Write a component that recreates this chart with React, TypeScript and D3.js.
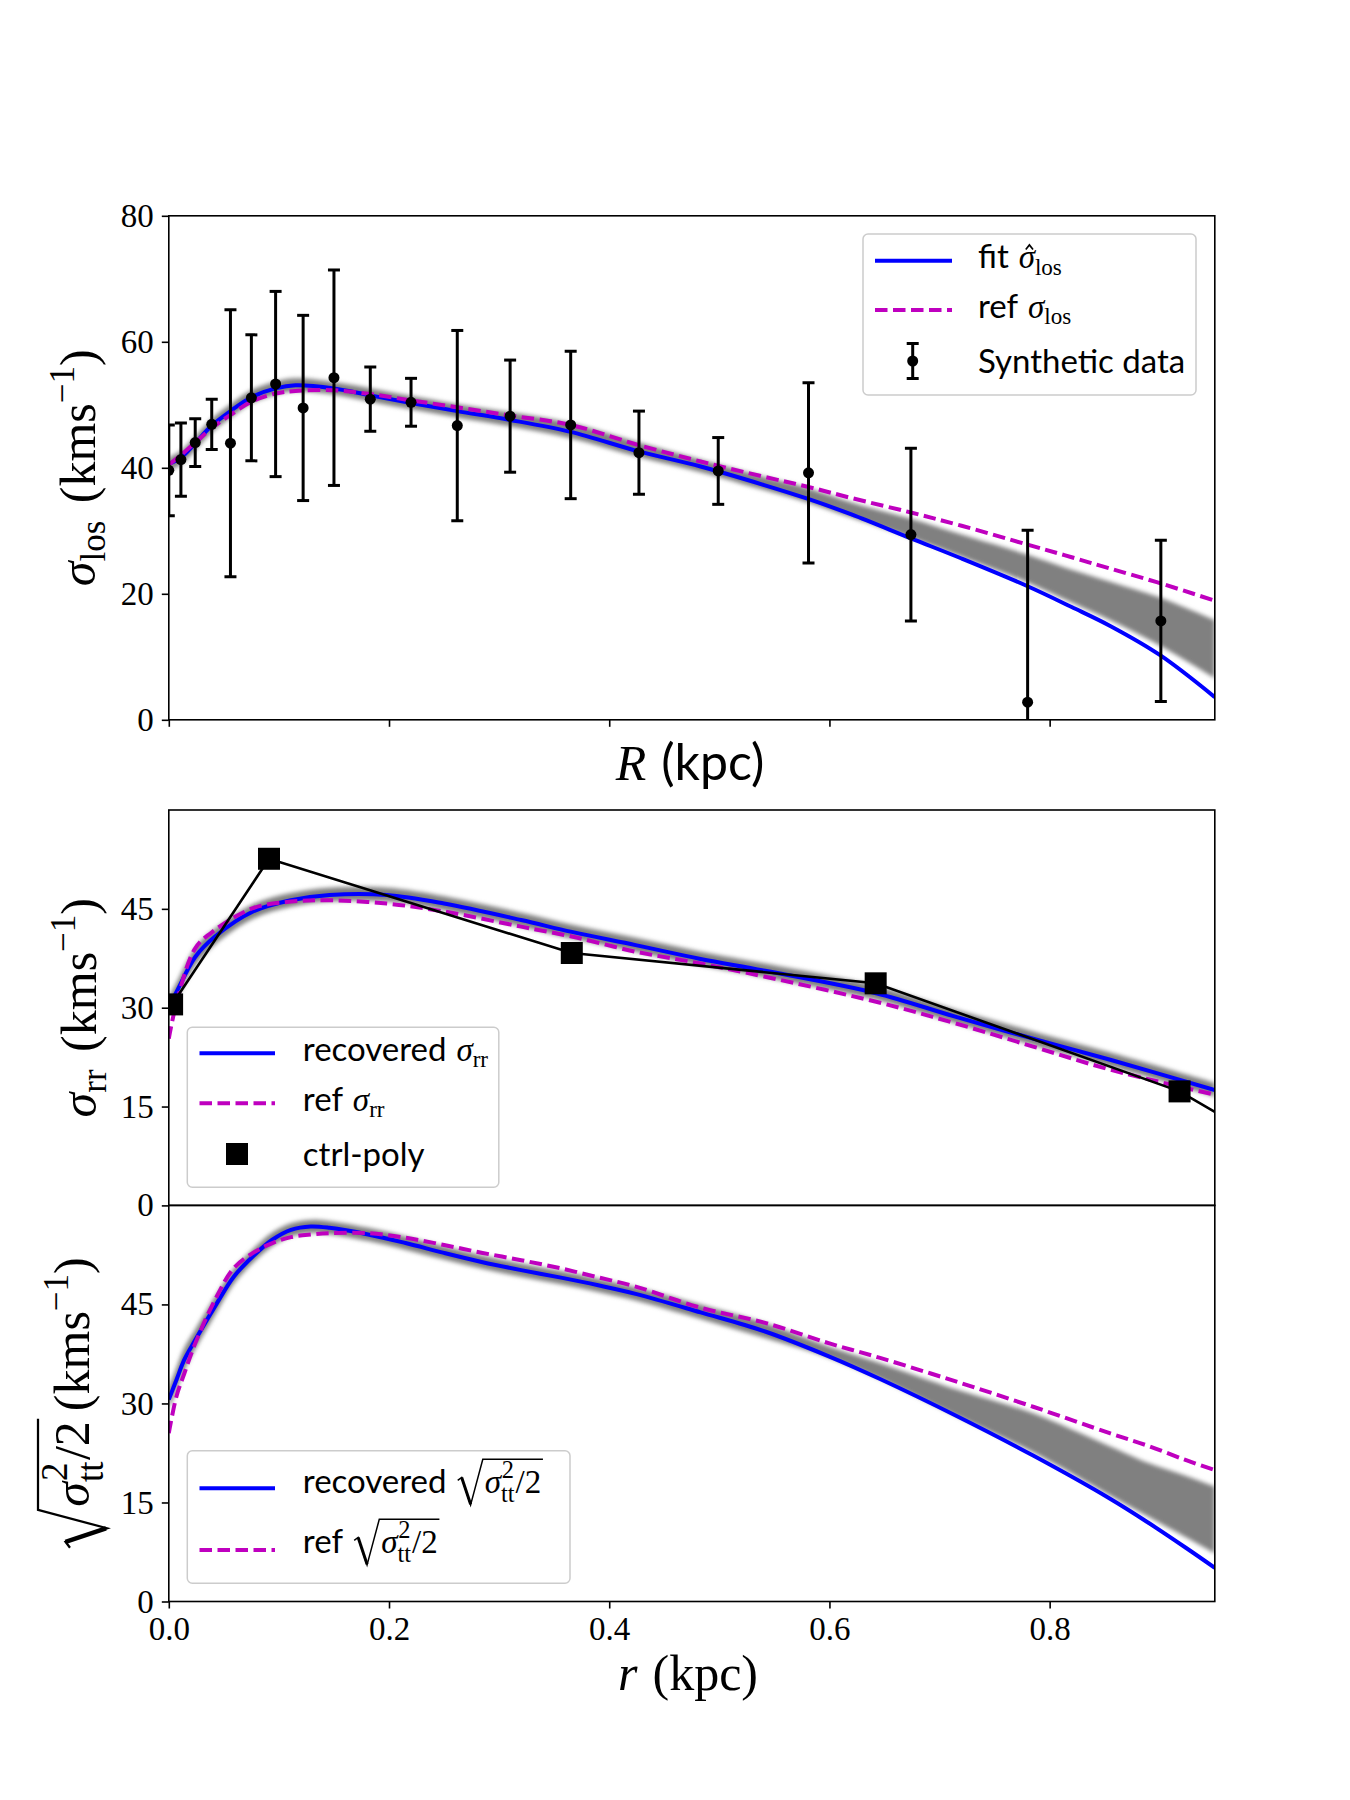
import React, { useEffect, useRef } from 'react';
import * as d3 from 'd3';

const W = 1350, H = 1800;
const SERIF = '"Liberation Serif", "DejaVu Serif", serif';
const SANS = 'Lato, "DejaVu Sans", sans-serif';
const BLUE = '#0000ff', MAG = '#bf00bf', BAND = '#808080';

// ---- top panel: line-of-sight dispersion ----
const topR = [0, 0.011, 0.024, 0.039, 0.056, 0.075, 0.097, 0.115, 0.15, 0.183, 0.22, 0.262, 0.31, 0.365, 0.427, 0.483, 0.54, 0.58, 0.62, 0.674, 0.72, 0.78, 0.82, 0.855, 0.9, 0.95];
const fitLos = [40.6, 41.6, 43.9, 46.7, 49.0, 51.2, 52.6, 53.1, 52.6, 51.5, 50.3, 49.0, 47.6, 45.7, 42.6, 40.2, 37.3, 35.1, 32.6, 28.8, 25.6, 21.2, 17.9, 14.9, 10.3, 3.6];
const refLos = [40.5, 42.0, 44.0, 46.3, 48.4, 50.5, 51.8, 52.2, 52.3, 51.7, 50.7, 49.6, 48.3, 46.8, 43.6, 41.0, 38.6, 37.0, 35.2, 32.9, 30.8, 27.8, 25.8, 24.0, 21.7, 18.9];
const bandLoLos = [39.6, 40.5, 42.8, 45.6, 47.9, 50.2, 51.6, 52.1, 51.6, 50.5, 49.3, 48.0, 46.6, 44.7, 41.7, 39.3, 36.5, 34.5, 32.1, 28.9, 25.9, 21.8, 18.6, 15.8, 11.8, 6.6];
const bandHiLos = [41.6, 42.7, 45.0, 47.8, 50.1, 52.3, 53.7, 54.2, 53.6, 52.6, 51.4, 50.1, 48.8, 47.1, 44.0, 41.3, 38.6, 36.8, 34.5, 31.9, 29.4, 26.2, 23.8, 21.9, 19.4, 15.8];

const dataR = [0.0, 0.011, 0.024, 0.039, 0.056, 0.075, 0.097, 0.122, 0.15, 0.183, 0.22, 0.262, 0.31, 0.365, 0.427, 0.499, 0.581, 0.674, 0.78, 0.901];
const dataSig = [39.6, 41.3, 44.0, 46.9, 43.9, 51.1, 53.3, 49.5, 54.3, 50.9, 50.4, 46.7, 48.2, 46.8, 42.4, 39.5, 39.2, 29.4, 2.8, 15.7];
const dataErr = [7.2, 5.8, 3.8, 4.0, 21.2, 10.0, 14.7, 14.7, 17.1, 5.1, 3.8, 15.1, 8.9, 11.7, 6.6, 5.3, 14.3, 13.7, 27.3, 12.8];

// ---- middle panel: radial dispersion ----
const midR = [0, 0.007, 0.024, 0.042, 0.0765, 0.111, 0.146, 0.198, 0.25, 0.32, 0.366, 0.424, 0.483, 0.5416, 0.6424, 0.715, 0.785, 0.855, 0.95];
const recRR = [30.2, 32.4, 37.7, 40.8, 44.6, 46.3, 47.1, 47.1, 45.8, 43.3, 41.5, 39.5, 37.4, 35.6, 32.2, 28.6, 25.3, 22.1, 17.5];
const refRR = [25.3, 30.7, 39.0, 41.8, 45.1, 46.1, 46.3, 45.8, 44.6, 42.3, 40.8, 38.5, 36.7, 34.7, 30.9, 27.6, 24.1, 20.6, 16.8];
const bandLoRR = [29.0, 31.2, 36.4, 39.6, 43.5, 45.3, 46.1, 46.1, 44.8, 42.3, 40.5, 38.5, 36.4, 34.6, 31.2, 27.6, 24.3, 21.1, 16.5];
const bandHiRR = [31.6, 33.8, 39.1, 42.0, 45.7, 47.4, 48.2, 48.2, 46.9, 44.4, 42.6, 40.6, 38.5, 36.7, 33.3, 29.7, 26.4, 23.2, 18.6];

const ctrlR = [0.003, 0.091, 0.366, 0.642, 0.918, 1.194];
const ctrlS = [30.5, 52.6, 38.3, 33.7, 17.3, -9.5];

// ---- bottom panel: tangential dispersion ----
const botR = [0, 0.007, 0.014, 0.024, 0.042, 0.059, 0.0765, 0.094, 0.111, 0.129, 0.146, 0.181, 0.215, 0.25, 0.285, 0.32, 0.355, 0.39, 0.424, 0.483, 0.5416, 0.6, 0.646, 0.7155, 0.785, 0.8545, 0.889, 0.924, 0.95];
const recTT = [30.6, 33.6, 36.6, 39.6, 44.7, 49.2, 52.3, 54.8, 56.3, 56.8, 56.6, 55.6, 54.3, 52.8, 51.4, 50.2, 49.1, 47.9, 46.6, 43.8, 40.9, 37.1, 33.7, 28.1, 22.1, 15.6, 12.0, 8.1, 5.1];
const refTT = [25.5, 31.1, 34.5, 39.1, 45.7, 50.5, 52.8, 54.3, 55.2, 55.6, 55.8, 55.8, 55.1, 54.0, 52.8, 51.7, 50.5, 49.1, 47.7, 44.5, 42.2, 39.1, 36.9, 33.3, 29.5, 25.5, 23.6, 21.4, 19.9];
const bandLoTT = [29.0, 32.0, 35.0, 38.2, 43.4, 48.1, 51.3, 53.8, 55.3, 55.8, 55.6, 54.6, 53.3, 51.8, 50.4, 49.2, 48.1, 46.9, 45.6, 42.8, 39.9, 36.9, 33.7, 28.1, 22.6, 16.1, 12.9, 9.7, 7.3];
const bandHiTT = [32.4, 35.4, 38.4, 41.2, 46.2, 50.4, 53.4, 55.9, 57.3, 57.8, 57.6, 56.6, 55.3, 53.8, 52.4, 51.2, 50.1, 48.9, 47.6, 45.0, 42.2, 38.6, 36.1, 32.1, 28.5, 23.5, 21.0, 19.0, 17.4];

const xTicks = [0, 0.2, 0.4, 0.6, 0.8];
const losTicks = [0, 20, 40, 60, 80];
const dispTicks = [0, 15, 30, 45];

type Piece = any;

// lays out a run of text pieces (sans words, serif math, sub/superscripts, radicals)
function rich(g: any, pieces: Piece[], S: number) {
  let x = 0, sx = 0;
  let last = { x: 0, w: 0 };
  const put = (t: string, px: number, py: number, size: number, fam: string, it: boolean) => {
    const n = g.append('text').attr('x', px).attr('y', py)
      .style('font-family', fam).style('font-style', it ? 'italic' : 'normal')
      .style('font-size', size + 'px').style('white-space', 'pre').attr('fill', '#000').text(t);
    return n.node().getComputedTextLength();
  };
  pieces.forEach((p) => {
    if (p.hat) {
      const cx = last.x + last.w / 2 + 0.08 * S;
      g.append('path')
        .attr('d', `M${cx - 0.11 * S},${-0.56 * S}L${cx},${-0.7 * S}L${cx + 0.11 * S},${-0.56 * S}`)
        .attr('fill', 'none').attr('stroke', '#000').attr('stroke-width', 0.05 * S);
      return;
    }
    if (p.sqrt === 'open') { sx = x; x += 0.86 * S; return; }
    if (p.sqrt === 'close') {
      const top = -1.02 * S;
      g.append('path')
        .attr('d', `M${sx + 0.04 * S},${-0.38 * S}L${sx + 0.16 * S},${-0.47 * S}L${sx + 0.43 * S},${0.36 * S}L${sx + 0.8 * S},${top}L${x + 0.05 * S},${top}`)
        .attr('fill', 'none').attr('stroke', '#000').attr('stroke-width', 0.045 * S).attr('stroke-linejoin', 'miter');
      g.append('path')
        .attr('d', `M${sx + 0.16 * S},${-0.47 * S}L${sx + 0.43 * S},${0.34 * S}`)
        .attr('stroke', '#000').attr('stroke-width', 0.09 * S);
      x += 0.1 * S;
      return;
    }
    if (p.stack) {
      const wa = put(p.stack[0], x + 0.02 * S, -0.44 * S, 0.74 * S, SERIF, false);
      const wb = put(p.stack[1], x, 0.28 * S, 0.74 * S, SERIF, false);
      x += Math.max(wa + 0.02 * S, wb) + 0.03 * S;
      return;
    }
    x += (p.gap ?? 0) * S;
    const w = put(p.t, x, (p.dy ?? 0) * S, (p.s ?? 1) * S, p.sans ? SANS : SERIF, !!p.it);
    last = { x, w };
    x += w;
  });
  return x;
}

const App = () => {
  const svgRef = useRef<SVGSVGElement>(null);

  useEffect(() => {
    const svg = d3.select(svgRef.current);
    svg.selectAll('*').remove();

    const X0 = 168.8, X1 = 1214.8;
    const x = d3.scaleLinear().domain([0, 0.95]).range([X0, X1]);

    const defs = svg.append('defs');
    defs.append('filter').attr('id', 'soft').attr('x', '-10%').attr('y', '-10%')
      .attr('width', '120%').attr('height', '120%')
      .append('feGaussianBlur').attr('stdDeviation', 2.2);

    const panel = (id: string, top: number, bottom: number, ymax: number, yt: number[], xLabels: boolean | null) => {
      const y = d3.scaleLinear().domain([0, ymax]).range([bottom, top]);
      defs.append('clipPath').attr('id', id).append('rect')
        .attr('x', X0).attr('y', top).attr('width', X1 - X0).attr('height', bottom - top);
      const plot = svg.append('g').attr('clip-path', `url(#${id})`);
      const frame = () => {
        svg.append('rect').attr('x', X0).attr('y', top).attr('width', X1 - X0).attr('height', bottom - top)
          .attr('fill', 'none').attr('stroke', '#000').attr('stroke-width', 1.6);
        svg.append('g').attr('transform', `translate(${X0},0)`)
          .call(d3.axisLeft(y).tickValues(yt).tickSize(7).tickPadding(8).tickFormat(d3.format('d')))
          .attr('font-family', SERIF).attr('font-size', 33)
          .call((g: any) => g.select('.domain').remove())
          .call((g: any) => g.selectAll('line').attr('stroke-width', 1.6));
        if (xLabels !== null) {
          svg.append('g').attr('transform', `translate(0,${bottom})`)
            .call(d3.axisBottom(x).tickValues(xTicks).tickSize(7).tickPadding(8)
              .tickFormat(xLabels ? d3.format('.1f') : () => ''))
            .attr('font-family', SERIF).attr('font-size', 33)
            .call((g: any) => g.select('.domain').remove())
            .call((g: any) => g.selectAll('line').attr('stroke-width', 1.6));
        }
      };
      return { y, plot, frame };
    };

    const smooth = d3.curveCatmullRom.alpha(0.5);
    const band = (plot: any, y: any, rs: number[], lo: number[], hi: number[]) => {
      const area = d3.area<number>().x((_, i) => x(rs[i])).y0((_, i) => y(lo[i])).y1((_, i) => y(hi[i]))
        .curve(smooth);
      plot.append('path').attr('d', area(rs)).attr('fill', BAND).attr('filter', 'url(#soft)');
    };
    const curve = (plot: any, y: any, rs: number[], vs: number[], color: string, dashed: boolean) => {
      const ln = d3.line<number>().x((_, i) => x(rs[i])).y((_, i) => y(vs[i])).curve(smooth);
      plot.append('path').attr('d', ln(rs)).attr('fill', 'none').attr('stroke', color)
        .attr('stroke-width', 4).attr('stroke-dasharray', dashed ? '12.5,5.5' : null);
    };

    const legendBox = (x0: number, y0: number, x1: number, y1: number) => {
      svg.append('rect').attr('x', x0).attr('y', y0).attr('width', x1 - x0).attr('height', y1 - y0)
        .attr('rx', 5).attr('fill', '#fff').attr('fill-opacity', 0.8)
        .attr('stroke', '#cccccc').attr('stroke-width', 1.5);
    };
    const legendLine = (x0: number, x1: number, yy: number, color: string, dashed: boolean) => {
      svg.append('line').attr('x1', x0).attr('x2', x1).attr('y1', yy).attr('y2', yy)
        .attr('stroke', color).attr('stroke-width', 4).attr('stroke-dasharray', dashed ? '12.5,5.5' : null);
    };
    const legendText = (tx: number, ty: number, pieces: Piece[]) => {
      const g = svg.append('g').attr('transform', `translate(${tx},${ty})`);
      rich(g, pieces, 33);
    };
    const yLabel = (bx: number, cy: number, pieces: Piece[]) => {
      const g = svg.append('g').attr('transform', `translate(${bx},${cy}) rotate(-90)`);
      const inner = g.append('g');
      const w = rich(inner, pieces, 50);
      inner.attr('transform', `translate(${-w / 2},0)`);
    };
    const xLabel = (cx: number, by: number, pieces: Piece[]) => {
      const g = svg.append('g').attr('transform', `translate(${cx},${by})`);
      const inner = g.append('g');
      const w = rich(inner, pieces, 50);
      inner.attr('transform', `translate(${-w / 2},0)`);
    };

    // ---------- top panel ----------
    const P1 = panel('clipTop', 215.8, 719.8, 80, losTicks, false);
    band(P1.plot, P1.y, topR, bandLoLos, bandHiLos);
    curve(P1.plot, P1.y, topR, fitLos, BLUE, false);
    curve(P1.plot, P1.y, topR, refLos, MAG, true);
    dataR.forEach((r, i) => {
      const cx = x(r), yt = P1.y(dataSig[i] + dataErr[i]), yb = P1.y(dataSig[i] - dataErr[i]);
      const g = P1.plot.append('g').attr('stroke', '#000').attr('stroke-width', 3);
      g.append('line').attr('x1', cx).attr('x2', cx).attr('y1', yt).attr('y2', yb);
      g.append('line').attr('x1', cx - 6).attr('x2', cx + 6).attr('y1', yt).attr('y2', yt);
      g.append('line').attr('x1', cx - 6).attr('x2', cx + 6).attr('y1', yb).attr('y2', yb);
      P1.plot.append('circle').attr('cx', cx).attr('cy', P1.y(dataSig[i])).attr('r', 5.5).attr('fill', '#000');
    });
    P1.frame();

    legendBox(863, 234, 1196, 395);
    legendLine(875, 952, 260.7, BLUE, false);
    legendLine(875, 952, 310, MAG, true);
    const eb = svg.append('g').attr('stroke', '#000').attr('stroke-width', 3);
    eb.append('line').attr('x1', 912.7).attr('x2', 912.7).attr('y1', 343.5).attr('y2', 378.5);
    eb.append('line').attr('x1', 906.7).attr('x2', 918.7).attr('y1', 343.5).attr('y2', 343.5);
    eb.append('line').attr('x1', 906.7).attr('x2', 918.7).attr('y1', 378.5).attr('y2', 378.5);
    svg.append('circle').attr('cx', 912.7).attr('cy', 361).attr('r', 5.5).attr('fill', '#000');
    legendText(978, 268, [{ t: 'fit', sans: true }, { t: 'σ', it: true, gap: 0.3 }, { hat: true }, { t: 'los', s: 0.7, dy: 0.2 }]);
    legendText(978, 317.5, [{ t: 'ref', sans: true }, { t: 'σ', it: true, gap: 0.3 }, { t: 'los', s: 0.7, dy: 0.2 }]);
    legendText(978, 372.5, [{ t: 'Synthetic data', sans: true }]);

    yLabel(95, 467.8, [{ t: 'σ', it: true }, { t: 'los', s: 0.7, dy: 0.2 }, { t: '(kms', gap: 0.35 }, { t: '−1', s: 0.7, dy: -0.42 }, { t: ')' }]);
    xLabel(690, 780, [{ t: 'R', it: true }, { t: '(kpc)', sans: true, gap: 0.3 }]);

    // ---------- middle panel ----------
    const P2 = panel('clipMid', 810, 1205.4, 60, dispTicks, null);
    band(P2.plot, P2.y, midR, bandLoRR, bandHiRR);
    curve(P2.plot, P2.y, midR, recRR, BLUE, false);
    curve(P2.plot, P2.y, midR, refRR, MAG, true);
    const poly = d3.line<number>().x((_, i) => x(ctrlR[i])).y((_, i) => P2.y(ctrlS[i]));
    P2.plot.append('path').attr('d', poly(ctrlR)).attr('fill', 'none').attr('stroke', '#000').attr('stroke-width', 2.6);
    ctrlR.forEach((r, i) => {
      P2.plot.append('rect').attr('x', x(r) - 11).attr('y', P2.y(ctrlS[i]) - 11)
        .attr('width', 22).attr('height', 22).attr('fill', '#000');
    });
    P2.frame();

    legendBox(187.3, 1027.3, 498.8, 1187.3);
    legendLine(199.5, 275, 1053.3, BLUE, false);
    legendLine(199.5, 275, 1103.3, MAG, true);
    svg.append('rect').attr('x', 226).attr('y', 1143).attr('width', 22).attr('height', 22).attr('fill', '#000');
    legendText(302.8, 1060.5, [{ t: 'recovered', sans: true }, { t: 'σ', it: true, gap: 0.3 }, { t: 'rr', s: 0.7, dy: 0.2 }]);
    legendText(302.8, 1110.5, [{ t: 'ref', sans: true }, { t: 'σ', it: true, gap: 0.3 }, { t: 'rr', s: 0.7, dy: 0.2 }]);
    legendText(302.8, 1166, [{ t: 'ctrl-poly', sans: true }]);

    yLabel(96, 1007.7, [{ t: 'σ', it: true }, { t: 'rr', s: 0.7, dy: 0.2 }, { t: '(kms', gap: 0.35 }, { t: '−1', s: 0.7, dy: -0.42 }, { t: ')' }]);

    // ---------- bottom panel ----------
    const P3 = panel('clipBot', 1205.4, 1601.5, 60, dispTicks, true);
    band(P3.plot, P3.y, botR, bandLoTT, bandHiTT);
    curve(P3.plot, P3.y, botR, recTT, BLUE, false);
    curve(P3.plot, P3.y, botR, refTT, MAG, true);
    P3.frame();

    const sqrtTT = [{ sqrt: 'open' }, { t: 'σ', it: true }, { stack: ['2', 'tt'] }, { t: '/2' }, { sqrt: 'close' }];
    legendBox(187.3, 1450.7, 570, 1583.3);
    legendLine(199.5, 275, 1488.3, BLUE, false);
    legendLine(199.5, 275, 1550, MAG, true);
    legendText(302.8, 1493, [{ t: 'recovered', sans: true }, { t: '', gap: 0.3 }, ...sqrtTT]);
    legendText(302.8, 1553, [{ t: 'ref', sans: true }, { t: '', gap: 0.3 }, ...sqrtTT]);

    yLabel(89, 1403.5, [...sqrtTT, { t: '(kms', gap: 0.1 }, { t: '−1', s: 0.7, dy: -0.42 }, { t: ')' }]);
    xLabel(688, 1690, [{ t: 'r', it: true }, { t: '(kpc)', gap: 0.3 }]);
  }, []);

  return (
    <svg
      ref={svgRef}
      width={W}
      height={H}
      viewBox={`0 0 ${W} ${H}`}
      style={{ position: 'absolute', left: 0, top: 0, background: '#fff' }}
    />
  );
};

export default App;
